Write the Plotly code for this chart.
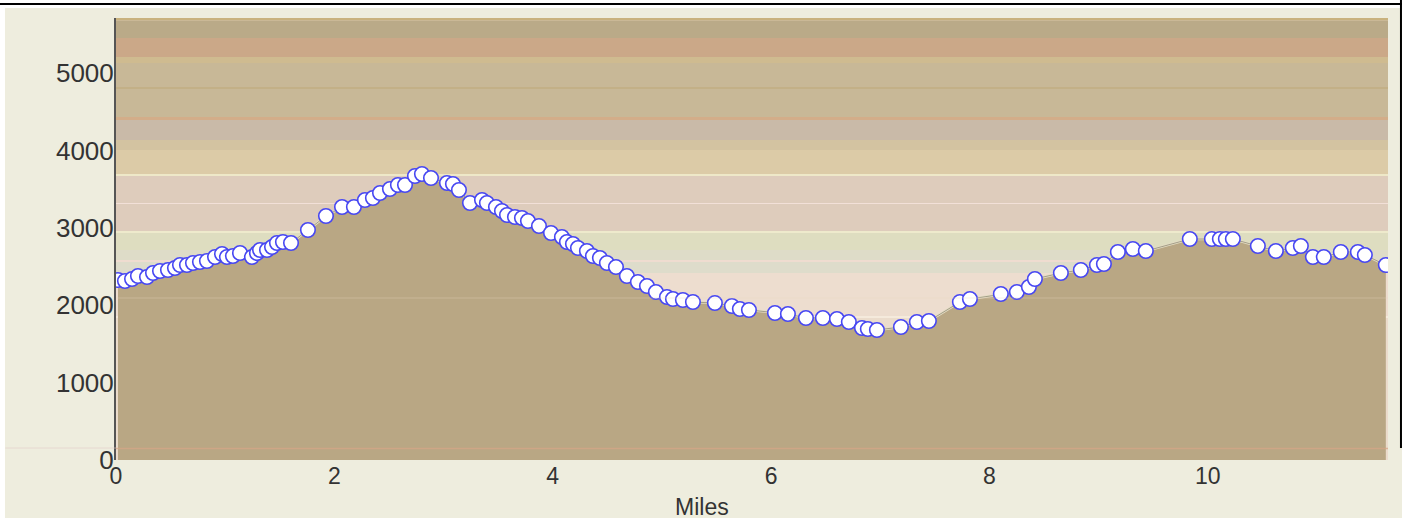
import plotly.graph_objects as go

# ---- data ----
miles = [0.018, 0.082, 0.147, 0.201, 0.284, 0.339, 0.403, 0.476, 0.540, 0.586,
         0.650, 0.705, 0.769, 0.833, 0.907, 0.971, 1.016, 1.071, 1.136, 1.245,
         1.291, 1.319, 1.383, 1.429, 1.474, 1.529, 1.603, 1.758, 1.923, 2.070,
         2.179, 2.280, 2.353, 2.418, 2.509, 2.582, 2.647, 2.738, 2.802, 2.885,
         3.031, 3.086, 3.141, 3.242, 3.352, 3.397, 3.480, 3.535, 3.581, 3.654,
         3.718, 3.773, 3.874, 3.984, 4.084, 4.130, 4.185, 4.231, 4.313, 4.368,
         4.432, 4.496, 4.579, 4.679, 4.780, 4.863, 4.945, 5.046, 5.101, 5.192,
         5.284, 5.485, 5.641, 5.714, 5.797, 6.035, 6.154, 6.319, 6.474, 6.603,
         6.712, 6.832, 6.886, 6.969, 7.189, 7.335, 7.445, 7.729, 7.821, 8.104,
         8.251, 8.361, 8.416, 8.654, 8.837, 8.984, 9.048, 9.176, 9.313, 9.432,
         9.835, 10.037, 10.110, 10.165, 10.229, 10.458, 10.623, 10.778, 10.852, 10.962,
         11.062, 11.218, 11.374, 11.438, 11.630]
elevation = [2326, 2313, 2339, 2377, 2364, 2416, 2442, 2455, 2481, 2519,
             2519, 2545, 2558, 2571, 2623, 2662, 2623, 2636, 2674, 2623,
             2674, 2713, 2713, 2752, 2804, 2817, 2804, 2972, 3152, 3269,
             3269, 3359, 3385, 3450, 3501, 3553, 3553, 3669, 3695, 3643,
             3579, 3566, 3488, 3320, 3359, 3320, 3269, 3217, 3165, 3139,
             3127, 3088, 3023, 2933, 2881, 2817, 2791, 2739, 2700, 2636,
             2610, 2545, 2494, 2377, 2300, 2248, 2171, 2106, 2080, 2067,
             2041, 2028, 1990, 1951, 1938, 1899, 1886, 1835, 1835, 1822,
             1783, 1705, 1693, 1680, 1718, 1783, 1796, 2041, 2080, 2145,
             2171, 2235, 2339, 2416, 2455, 2519, 2532, 2687, 2726, 2700,
             2855, 2855, 2855, 2855, 2855, 2765, 2700, 2739, 2765, 2623,
             2623, 2687, 2687, 2649, 2519]

# horizontal background bands (feet)
band_lo = [5680, 5452, 5207, 5129, 4431, 4793, 4393, 4134, 4005, 3695, 3669, 3320,
           3307, 2959, 2933, 2713, 2584, 2558, 2416, 1860, 1835, 0]
band_hi = [5711, 5680, 5452, 5207, 5129, 4819, 4431, 4393, 4134, 4005, 3695, 3669,
           3320, 3307, 2959, 2933, 2713, 2584, 2558, 2416, 1860, 1835]
band_colors = ['#C9B27E', '#BAAA88', '#CBA888', '#CFBB90', '#C8B897', '#C3B087',
               '#D3AD89', '#C9BAA8', '#D3C3A1', '#DCCBA7', '#EEE8C8', '#DECCBC',
               '#F2E0D8', '#DECCBC', '#EEEACC', '#DEDDC0', '#DEDCC8', '#EFDCD0',
               '#DEDCCB', '#EDDDCF', '#F5EADC', '#EBDCCC']

x_ticks = [0, 2, 4, 6, 8, 10]
y_ticks = [0, 1000, 2000, 3000, 4000, 5000]
x_title = 'Miles'

X_MAX = 11.65
Y_MAX = 5711

fig = go.Figure()

shapes = []
for lo, hi, c in zip(band_lo, band_hi, band_colors):
    shapes.append(dict(type='rect', xref='x', yref='y', x0=0, x1=X_MAX, y0=lo, y1=hi,
                       fillcolor=c, line=dict(width=0), layer='below'))

# elevation area
fig.add_trace(go.Scatter(x=miles, y=elevation, mode='lines', fill='tozeroy',
                         fillcolor='#B9A784', line=dict(color='#E4DDC4', width=2.5),
                         hoverinfo='skip', showlegend=False))
# data points
fig.add_trace(go.Scatter(x=miles, y=elevation, mode='lines+markers',
                         line=dict(color='rgba(120,115,95,0.6)', width=1),
                         marker=dict(size=14.5, color='white',
                                     line=dict(color='#4747F2', width=1.6)),
                         showlegend=False))

# faint lines inside area / bottom edge
shapes.append(dict(type='line', xref='paper', yref='y', x0=0, x1=1, y0=2093, y1=2093,
                   line=dict(color='rgba(230,215,190,0.35)', width=1), layer='above'))
shapes.append(dict(type='line', xref='paper', yref='y', x0=0, x1=1, y0=150, y1=150,
                   line=dict(color='rgba(214,165,135,0.75)', width=1.5), layer='above'))
shapes.append(dict(type='line', xref='paper', yref='paper', x0=-0.087, x1=0, y0=0.0271, y1=0.0271,
                   line=dict(color='rgba(225,205,200,0.6)', width=1), layer='above'))

# page frame pieces (white borders, black lines)
W = 'white'
shapes += [
    dict(type='rect', xref='paper', yref='paper', x0=-0.1, x1=-0.0873, y0=-0.14, y1=1.05,
         fillcolor=W, line=dict(width=0)),
    dict(type='rect', xref='paper', yref='paper', x0=-0.1, x1=1.02, y0=1.0226, y1=1.05,
         fillcolor=W, line=dict(width=0)),
    dict(type='rect', xref='paper', yref='paper', x0=-0.1, x1=1.02, y0=-0.14, y1=-0.1312,
         fillcolor=W, line=dict(width=0)),
    dict(type='rect', xref='paper', yref='paper', x0=1.011, x1=1.02, y0=-0.14, y1=1.05,
         fillcolor=W, line=dict(width=0)),
    dict(type='line', xref='paper', yref='paper', x0=-0.1, x1=1.011, y0=1.0317, y1=1.0317,
         line=dict(color='black', width=2)),
    dict(type='line', xref='paper', yref='paper', x0=1.0102, x1=1.0102, y0=0.0271, y1=1.0407,
         line=dict(color='black', width=2)),
]

fig.update_layout(
    width=1408, height=520,
    margin=dict(l=116, r=20, t=18, b=60),
    paper_bgcolor='#EEEDDE',
    plot_bgcolor='#EBDCCC',
    shapes=shapes,
    font=dict(family='Liberation Sans, Arial, sans-serif', color='#333333'),
    xaxis=dict(range=[0, X_MAX], tickvals=x_ticks, showgrid=False, zeroline=False,
               showline=False, ticks='', tickfont=dict(size=23, color='#333333')),
    yaxis=dict(range=[0, Y_MAX], tickvals=y_ticks, showgrid=False, zeroline=False,
               showline=True, linecolor='#555555', linewidth=2, ticks='',
               ticklabelstandoff=-5,
               tickfont=dict(size=26, color='#333333')),
    annotations=[dict(text=x_title, xref='paper', yref='paper', x=0.4607, y=-0.1063,
                      xanchor='center', yanchor='middle', showarrow=False,
                      font=dict(size=23, color='#333333'))],
)

fig.write_html('out.html', config={'displayModeBar': False},
               post_script="document.body.style.margin='0px';document.body.style.overflow='hidden';")
